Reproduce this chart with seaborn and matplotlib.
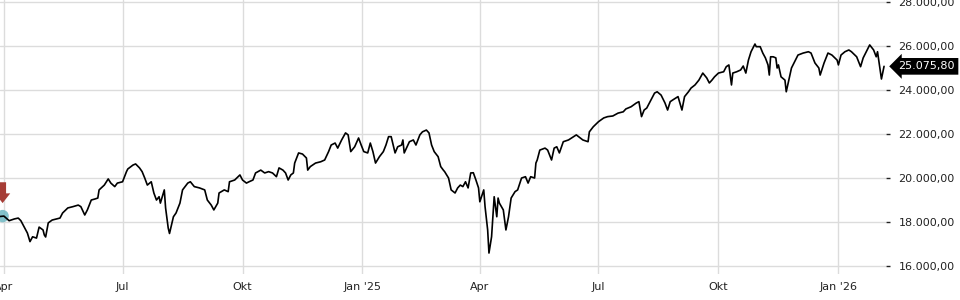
import matplotlib
matplotlib.use("Agg")
import matplotlib.pyplot as plt
import matplotlib.dates as mdates
import matplotlib.transforms as mtransforms
from matplotlib.ticker import FuncFormatter, FixedLocator
import seaborn as sns
import pandas as pd

# ---------------- data ----------------
start_date = "2024-04-01"
day_offsets = [
    -5, 0, 4, 8, 11, 13, 16, 18, 20, 22, 25, 27, 30, 31, 32, 34, 37, 43, 45, 49,
    53, 57, 59, 62, 64, 67, 70, 72, 73, 77, 80, 82, 85, 87, 91, 94, 95, 99, 101, 104,
    106, 108, 110, 113, 115, 117, 119, 120, 123, 124, 126, 127, 130, 132, 135, 137, 141, 143, 146, 150,
    154, 156, 159, 161, 164, 165, 169, 172, 173, 177, 181, 183, 186, 188, 191, 193, 197, 200, 203, 206,
    209, 211, 214, 216, 218, 220, 222, 223, 226, 229, 232, 233, 235, 239, 243, 246, 249, 251, 254, 256,
    259, 262, 264, 266, 269, 272, 274, 276, 279, 281, 283, 285, 288, 291, 293, 295, 297, 300, 302, 305,
    306, 307, 311, 314, 316, 319, 321, 324, 326, 328, 330, 333, 335, 337, 338, 341, 343, 346, 348, 350,
    352, 354, 356, 358, 360, 362, 364, 365, 368, 369, 370, 371, 372, 374, 376, 378, 379, 380, 383, 385,
    387, 389, 392, 394, 397, 400, 402, 404, 407, 408, 409, 411, 415, 417, 420, 422, 424, 426, 429, 433,
    437, 439, 442, 444, 448, 449, 452, 456, 460, 463, 467, 471, 475, 477, 481, 485, 487, 489, 491, 493,
    497, 499, 501, 504, 507, 509, 511, 513, 517, 520, 522, 525, 527, 530, 533, 536, 539, 541, 543, 545,
    548, 552, 554, 556, 558, 559, 562, 565, 567, 569, 571, 573, 576, 577, 580, 582, 584, 586, 587, 588,
    590, 592, 593, 594, 596, 599, 600, 602, 604, 607, 609, 613, 617, 619, 622, 625, 626, 629, 632, 635,
    639, 640, 642, 645, 648, 650, 654, 657, 659, 662, 664, 667, 669, 670, 672, 673, 675,
]
close_values = [
    18240, 18270, 18060, 18140, 18180, 18060, 17730, 17500, 17110, 17330, 17270, 17770, 17640, 17410, 17320, 17960, 18090, 18180, 18410, 18640,
    18700, 18770, 18700, 18320, 18550, 19000, 19050, 19090, 19460, 19680, 19960, 19770, 19610, 19770, 19830, 20290, 20410, 20590, 20640, 20460,
    20290, 20000, 19680, 19830, 19320, 19000, 19150, 18860, 19460, 18640, 17730, 17480, 18240, 18410, 18860, 19460, 19770, 19830, 19610, 19550,
    19460, 19000, 18770, 18550, 18860, 19320, 19460, 19380, 19830, 19910, 20140, 19910, 19770, 19830, 19910, 20230, 20360, 20230, 20290, 20230,
    20060, 20460, 20360, 20230, 19910, 20140, 20230, 20680, 21140, 21090, 20910, 20360, 20520, 20680, 20740, 20820, 21200, 21500, 21590, 21360,
    21730, 22050, 21960, 21200, 21420, 21820, 21500, 21200, 21140, 21590, 21200, 20680, 20970, 21200, 21500, 21880, 21880, 21140, 21420, 21500,
    21730, 21140, 21650, 21730, 21500, 21960, 22100, 22180, 22050, 21500, 21200, 20970, 20520, 20360, 20290, 20000, 19460, 19320, 19550, 19680,
    19610, 19830, 19550, 20230, 20240, 19910, 19550, 18920, 19460, 18700, 18180, 17640, 16590, 17330, 19150, 18240, 19090, 18860, 18550, 17640,
    18240, 19090, 19380, 19460, 20000, 20060, 19770, 20060, 20000, 20680, 20820, 21270, 21360, 21270, 20820, 21360, 21420, 21140, 21650, 21730,
    21880, 21960, 21820, 21730, 21650, 22100, 22330, 22560, 22730, 22790, 22820, 22950, 23010, 23140, 23240, 23410, 23470, 22790, 23090, 23180,
    23640, 23860, 23920, 23770, 23410, 23090, 23470, 23550, 23700, 23090, 23700, 23920, 24090, 24230, 24450, 24770, 24550, 24320, 24450, 24600,
    24770, 24830, 25060, 25140, 24230, 24770, 24830, 24910, 25090, 24770, 25360, 25740, 26090, 25970, 25970, 25680, 25460, 25140, 24680, 25510,
    25510, 25460, 25000, 25140, 24600, 24450, 23920, 24450, 25000, 25360, 25590, 25680, 25740, 25680, 25230, 25000, 24680, 25230, 25680, 25590,
    25360, 25140, 25590, 25740, 25820, 25740, 25510, 25060, 25460, 25820, 26050, 25820, 25510, 25740, 24910, 24500, 25075.80,
]
marker_offset = -1
marker_value = 18270
last_value = 25075.80

y_ticks = [16000, 18000, 20000, 22000, 24000, 26000, 28000]
x_tick_dates = ["2024-04-01", "2024-07-01", "2024-10-01", "2025-01-01",
                "2025-04-01", "2025-07-01", "2025-10-01", "2026-01-01"]
x_tick_labels = ["Apr", "Jul", "Okt", "Jan '25", "Apr", "Jul", "Okt", "Jan '26"]

# ---------------- build frame ----------------
t0 = pd.Timestamp(start_date)
df = pd.DataFrame({
    "date": t0 + pd.to_timedelta(day_offsets, unit="D"),
    "close": close_values,
})


def de_fmt(v):
    s = f"{v:,.2f}"
    return s.replace(",", "X").replace(".", ",").replace("X", ".")


sns.set_theme(style="white")
plt.rcParams["font.family"] = ["DejaVu Sans"]

W, H = 960, 300
fig = plt.figure(figsize=(W / 100, H / 100), dpi=100)
ax_bottom_px = 274
ax_right_px = 886
ax = fig.add_axes([0, (H - ax_bottom_px) / H, ax_right_px / W, ax_bottom_px / H])

# start marker (under the line)
mdate = t0 + pd.Timedelta(days=marker_offset)
ax.scatter([mdate], [marker_value], s=80, color="#6fb8c2", alpha=0.85,
           zorder=1.5, edgecolors="none", clip_on=False)

sns.lineplot(data=df, x="date", y="close", ax=ax, color="black",
             linewidth=1.2, estimator=None, sort=False, zorder=3)

# limits
n0 = mdates.date2num(t0)
ax.set_xlim(n0 - 3.0, n0 + 676.5)
ax.set_ylim(15638, 28091)

# grid
ax.grid(True, color="#dcdcdc", linewidth=1.0)
ax.set_axisbelow(True)
for s in ax.spines.values():
    s.set_visible(False)

# x ticks
ax.xaxis.set_major_locator(FixedLocator([mdates.date2num(pd.Timestamp(d)) for d in x_tick_dates]))
ax.set_xticklabels(x_tick_labels)
ax.tick_params(axis="x", length=0, pad=6, labelsize=8, labelcolor="#222222")

# y ticks on right
ax.yaxis.tick_right()
ax.set_yticks(y_ticks)
ax.yaxis.set_major_formatter(FuncFormatter(lambda v, p: de_fmt(v)))
ax.tick_params(axis="y", which="major", right=True, length=3, width=1,
               color="#222222", pad=6, labelsize=8, labelcolor="#222222")
ax.set_xlabel("")
ax.set_ylabel("")

# arrow above the start marker
tip = mtransforms.offset_copy(ax.transData, fig=fig, x=0, y=13, units="dots")
ax.annotate("", xy=(mdates.date2num(mdate), marker_value), xycoords=tip,
            xytext=(0, 15), textcoords="offset points",
            arrowprops=dict(facecolor="#a63d36", edgecolor="none",
                            width=5, headwidth=11, headlength=7, shrink=0),
            annotation_clip=False)

# last value label
trans = mtransforms.blended_transform_factory(ax.transAxes, ax.transData)
ax.annotate(de_fmt(last_value), xy=(1.0, last_value), xycoords=trans,
            xytext=(9, 0), textcoords="offset points", ha="left", va="center",
            color="white", fontsize=8,
            bbox=dict(boxstyle="larrow,pad=0.3", fc="black", ec="none"),
            annotation_clip=False)

fig.savefig("out.png", dpi=100)
